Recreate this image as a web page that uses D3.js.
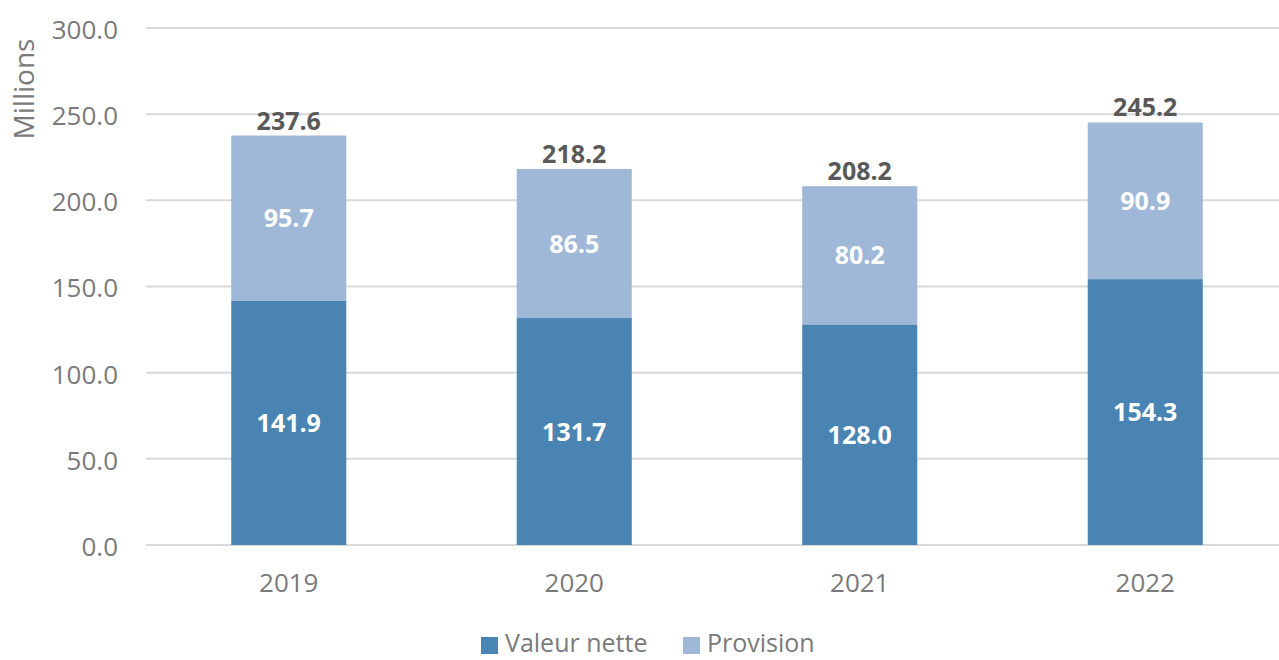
<!DOCTYPE html>
<html><head><meta charset="utf-8">
<script src="https://cdn.jsdelivr.net/npm/d3@7"></script>
<style>body{margin:0;background:#fff}svg{display:block}</style>
</head><body>
<script>
const categories = ["2019","2020","2021","2022"];
const valeurNette = [141.9,131.7,128.0,154.3];
const provision = [95.7,86.5,80.2,90.9];
const totals = [237.6,218.2,208.2,245.2];
const seriesNames = ["Valeur nette","Provision"];
const yTicks = [0,50,100,150,200,250,300];

const W=1279,H=660;
const font="'Open Sans', 'Liberation Sans', sans-serif";
const colors=["#4a84b2","#a0b8d8"];
const svg=d3.select("body").append("svg").attr("width",W).attr("height",H);

const x=d3.scaleBand().domain(categories).range([146,1288]).paddingInner(0.597).paddingOuter(0.2985);
const y=d3.scaleLinear().domain([0,300]).range([545,28]);

// gridlines
svg.append("g").selectAll("line").data(yTicks).join("line")
  .attr("x1",146).attr("x2",W).attr("y1",d=>y(d)).attr("y2",d=>y(d))
  .attr("stroke","#d9d9d9").attr("stroke-width",2);

// y axis
const yAxis=svg.append("g").attr("transform","translate(118,0)")
  .call(d3.axisLeft(y).tickValues(yTicks).tickFormat(d3.format(".1f")).tickSize(0).tickPadding(0));
yAxis.select(".domain").remove();
yAxis.selectAll("text").attr("font-family",font).attr("font-size",26).attr("fill","#7a7a7a").attr("dy","0.4em");

// x axis
const xAxis=svg.append("g").attr("transform","translate(0,592)")
  .call(d3.axisBottom(x).tickSize(0).tickPadding(0));
xAxis.select(".domain").remove();
xAxis.selectAll("text").attr("font-family",font).attr("font-size",26).attr("fill","#7a7a7a").attr("dy","0");

// stacked data
const rows=categories.map((c,i)=>({cat:c,"Valeur nette":valeurNette[i],"Provision":provision[i]}));
const stack=d3.stack().keys(seriesNames)(rows);

const g=svg.append("g");
stack.forEach((s,si)=>{
  g.append("g").selectAll("rect").data(s).join("rect")
    .attr("x",d=>x(d.data.cat)).attr("width",x.bandwidth())
    .attr("y",d=>y(d[1])).attr("height",d=>y(d[0])-y(d[1]))
    .attr("fill",colors[si]);
  g.append("g").selectAll("text").data(s).join("text")
    .attr("x",d=>x(d.data.cat)+x.bandwidth()/2)
    .attr("y",d=>(y(d[0])+y(d[1]))/2)
    .attr("dy","0.36em").attr("text-anchor","middle")
    .attr("font-family",font).attr("font-weight","bold").attr("font-size",25)
    .attr("fill","#fff")
    .text(d=>d3.format(".1f")(d[1]-d[0]));
});

// totals
svg.append("g").selectAll("text").data(categories).join("text")
  .attr("x",d=>x(d)+x.bandwidth()/2)
  .attr("y",(d,i)=>y(totals[i])-6)
  .attr("text-anchor","middle")
  .attr("font-family",font).attr("font-weight","bold").attr("font-size",25)
  .attr("fill","#595959")
  .text((d,i)=>d3.format(".1f")(totals[i]));

// y title
svg.append("text").attr("transform","translate(34,89) rotate(-90)")
  .attr("text-anchor","middle").attr("font-family",font).attr("font-size",28)
  .attr("fill","#7a7a7a").text("Millions");

// legend
const legendX=[481,683];
const lg=svg.append("g");
seriesNames.forEach((n,i)=>{
  lg.append("rect").attr("x",legendX[i]).attr("y",637).attr("width",17).attr("height",17).attr("fill",colors[i]);
  lg.append("text").attr("x",legendX[i]+24).attr("y",652).attr("font-family",font).attr("font-size",25)
    .attr("fill","#7a7a7a").text(n);
});
</script>
</body></html>
